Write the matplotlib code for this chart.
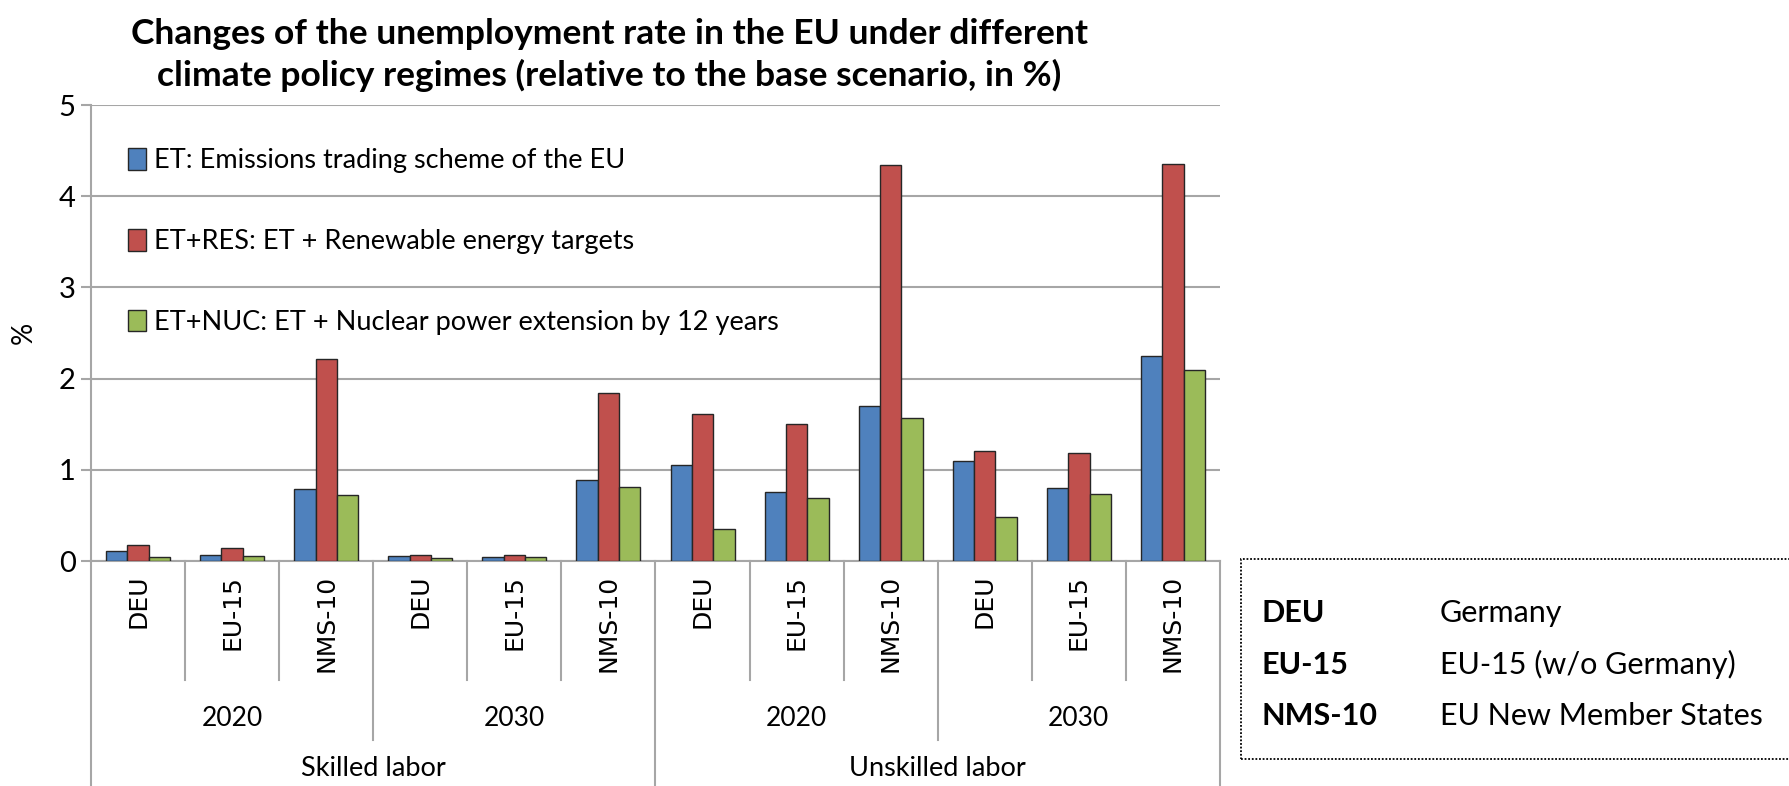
import numpy as np
import matplotlib
matplotlib.use("Agg")
import matplotlib.pyplot as plt
from matplotlib.patches import Patch, Rectangle

plt.rcParams['font.family'] = ['Lato', 'DejaVu Sans']

title = ("Changes of the unemployment rate in the EU under different\n"
         "climate policy regimes (relative to the base scenario, in %)")

regions = ["DEU", "EU-15", "NMS-10"] * 4
years = ["2020", "2030", "2020", "2030"]
labor = ["Skilled labor", "Unskilled labor"]

series_names = ["ET: Emissions trading scheme of the EU",
                "ET+RES: ET + Renewable energy targets",
                "ET+NUC: ET + Nuclear power extension by 12 years"]
et = [0.11, 0.07, 0.79, 0.06, 0.04, 0.89, 1.05, 0.76, 1.70, 1.10, 0.80, 2.25]
et_res = [0.18, 0.14, 2.21, 0.07, 0.07, 1.84, 1.61, 1.50, 4.34, 1.21, 1.18, 4.35]
et_nuc = [0.04, 0.06, 0.72, 0.03, 0.04, 0.81, 0.35, 0.69, 1.57, 0.48, 0.73, 2.09]

key_codes = ["DEU", "EU-15", "NMS-10"]
key_names = ["Germany", "EU-15 (w/o Germany)", "EU New Member States"]

colors = ["#4F81BD", "#C0504D", "#9BBB59"]
grey = "#A6A6A6"
W, H = 1789, 786

fig = plt.figure(figsize=(W / 100, H / 100), dpi=100)
# axes placed in pixel terms of the reference
left, right, top, bottom = 91, 1220, 105, 561
ax = fig.add_axes([left / W, 1 - bottom / H, (right - left) / W, (bottom - top) / H])

x = np.arange(len(regions))
w = 0.227
for i, (vals, c, name) in enumerate(zip([et, et_res, et_nuc], colors, series_names)):
    ax.bar(x + (i - 1) * w, vals, w, color=c, edgecolor="#262626", linewidth=1,
           label=name, zorder=3)

ax.set_xlim(-0.5, len(regions) - 0.5)
ax.set_ylim(0, 5)
ax.set_yticks(range(6))
ax.set_xticks([])
ax.yaxis.grid(True, color=grey, linewidth=1.5)
ax.set_axisbelow(True)
for s in ["top", "right"]:
    ax.spines[s].set_visible(False)
for s in ["left", "bottom"]:
    ax.spines[s].set_color(grey)
    ax.spines[s].set_linewidth(1.5)
ax.tick_params(axis="y", length=7, width=1.5, color=grey, labelsize=21, pad=4)
fig.text(24 / W, 1 - 333 / H, "%", rotation=90, ha="center", va="center", fontsize=20)

# multi-level category axis
tr = ax.get_xaxis_transform()
for b in range(len(regions) + 1):
    xb = b - 0.5
    if b % 6 == 0:
        depth = -0.493
    elif b % 3 == 0:
        depth = -0.393
    else:
        depth = -0.261
    ax.plot([xb, xb], [0, depth], transform=tr, color=grey, linewidth=1.5, clip_on=False)

for i, r in enumerate(regions):
    ax.text(i, -0.03, r, rotation=90, ha="center", va="top", transform=tr, fontsize=18,
            family="DejaVu Sans")
for j, yr in enumerate(years):
    ax.text(3 * j + 1, -0.345, yr, ha="center", va="center", transform=tr, fontsize=19)
for j, lb in enumerate(labor):
    ax.text(6 * j + 2.5, -0.455, lb, ha="center", va="center", transform=tr, fontsize=19.5)

handles = [Patch(facecolor=c, edgecolor="#262626") for c in colors]
ax.legend(handles, series_names, loc="upper left", bbox_to_anchor=(0.033, 0.905),
          frameon=False, fontsize=19.5, labelspacing=2.05, handlelength=0.65,
          handleheight=0.85, handletextpad=0.3, borderpad=0, borderaxespad=0)

fig.text(0.3405, 0.930, title, ha="center", va="center", fontsize=25.5,
         fontweight="bold", linespacing=1.3)

# abbreviation key box
fig.add_artist(Rectangle((1241 / W, 1 - 759 / H), (W - 1241) / W + 0.01, 200 / H,
                         transform=fig.transFigure, fill=False, linestyle=(0, (1, 1)),
                         linewidth=1.3, edgecolor="black", clip_on=False))
for k, (code, name) in enumerate(zip(key_codes, key_names)):
    yk = 1 - (613 + 51.5 * k) / H
    fig.text(1261 / W, yk, code, fontweight="bold", va="center", fontsize=22)
    fig.text(1440 / W, yk, name, va="center", fontsize=22)

fig.savefig("out.png", dpi=100)
plt.close(fig)
